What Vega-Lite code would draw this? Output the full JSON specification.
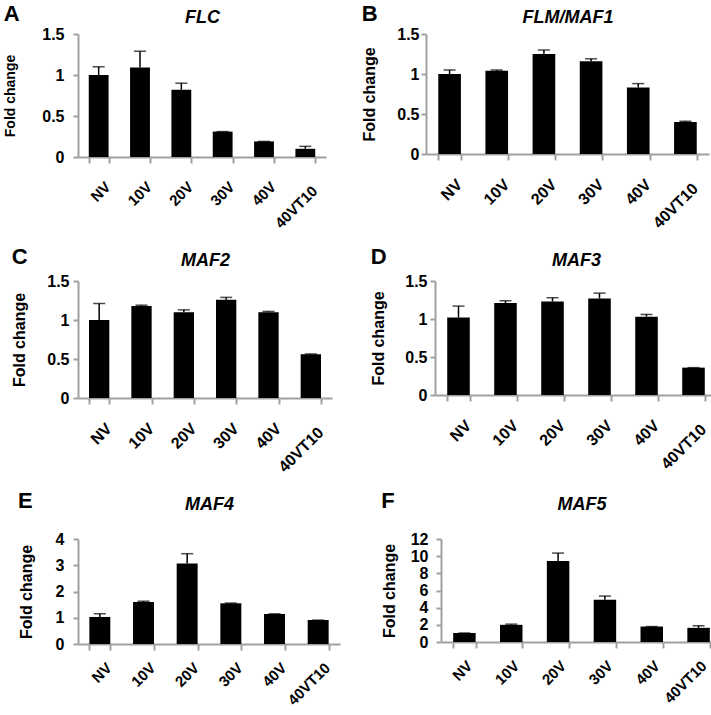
{
  "$schema": "https://vega.github.io/schema/vega-lite/v6.json",
  "padding": {"left": 3, "top": 3, "right": 2, "bottom": 0},
  "background": "white",
  "data": {"values": [
    {"panel": "A", "cat": "NV", "value": 1.0, "upper": 1.1},
    {"panel": "A", "cat": "10V", "value": 1.09, "upper": 1.29},
    {"panel": "A", "cat": "20V", "value": 0.82, "upper": 0.9},
    {"panel": "A", "cat": "30V", "value": 0.31, "upper": 0.31},
    {"panel": "A", "cat": "40V", "value": 0.19, "upper": 0.19},
    {"panel": "A", "cat": "40VT10", "value": 0.1, "upper": 0.13},
    {"panel": "B", "cat": "NV", "value": 1.0, "upper": 1.05},
    {"panel": "B", "cat": "10V", "value": 1.04, "upper": 1.05},
    {"panel": "B", "cat": "20V", "value": 1.25, "upper": 1.3},
    {"panel": "B", "cat": "30V", "value": 1.16, "upper": 1.19},
    {"panel": "B", "cat": "40V", "value": 0.83, "upper": 0.88},
    {"panel": "B", "cat": "40VT10", "value": 0.4, "upper": 0.41},
    {"panel": "C", "cat": "NV", "value": 1.0, "upper": 1.21},
    {"panel": "C", "cat": "10V", "value": 1.18, "upper": 1.19},
    {"panel": "C", "cat": "20V", "value": 1.1, "upper": 1.13},
    {"panel": "C", "cat": "30V", "value": 1.26, "upper": 1.29},
    {"panel": "C", "cat": "40V", "value": 1.1, "upper": 1.11},
    {"panel": "C", "cat": "40VT10", "value": 0.56, "upper": 0.565},
    {"panel": "D", "cat": "NV", "value": 1.02, "upper": 1.17},
    {"panel": "D", "cat": "10V", "value": 1.21, "upper": 1.24},
    {"panel": "D", "cat": "20V", "value": 1.23, "upper": 1.28},
    {"panel": "D", "cat": "30V", "value": 1.27, "upper": 1.34},
    {"panel": "D", "cat": "40V", "value": 1.03, "upper": 1.06},
    {"panel": "D", "cat": "40VT10", "value": 0.36, "upper": 0.36},
    {"panel": "E", "cat": "NV", "value": 1.03, "upper": 1.15},
    {"panel": "E", "cat": "10V", "value": 1.6, "upper": 1.63},
    {"panel": "E", "cat": "20V", "value": 3.07, "upper": 3.44},
    {"panel": "E", "cat": "30V", "value": 1.55, "upper": 1.56},
    {"panel": "E", "cat": "40V", "value": 1.14, "upper": 1.15},
    {"panel": "E", "cat": "40VT10", "value": 0.91, "upper": 0.91},
    {"panel": "F", "cat": "NV", "value": 1.05, "upper": 1.05},
    {"panel": "F", "cat": "10V", "value": 2.0, "upper": 2.08},
    {"panel": "F", "cat": "20V", "value": 9.45, "upper": 10.36},
    {"panel": "F", "cat": "30V", "value": 4.93, "upper": 5.35},
    {"panel": "F", "cat": "40V", "value": 1.8, "upper": 1.8},
    {"panel": "F", "cat": "40VT10", "value": 1.65, "upper": 1.9}
  ]},
  "config": {
    "view": {"stroke": null},
    "font": "Liberation Sans",
    "scale": {"bandPaddingInner": 0.52, "bandPaddingOuter": 0.26},
    "title": {"font": "Liberation Sans", "fontWeight": "bold", "color": "#000000", "fontSize": 22, "anchor": "start", "frame": "bounds", "offset": 0, "dy": 22},
    "axis": {
      "grid": false,
      "labelFont": "Liberation Sans", "labelFontWeight": "bold", "labelFontSize": 16, "labelColor": "#000000",
      "titleFont": "Liberation Sans", "titleFontWeight": "bold", "titleFontSize": 16, "titleColor": "#000000",
      "domainColor": "#a0a0a0", "domainWidth": 2, "tickColor": "#a0a0a0", "tickWidth": 2, "tickSize": 5
    },
    "axisBottom": {"labelAngle": -45, "tickBand": "extent", "labelOffset": 4, "tickSize": 6,
      "labelPadding": {"condition": {"test": "datum.value === '40VT10'", "value": 20}, "value": 16}},
    "axisTop": {"labels": false, "ticks": false, "domain": false, "titleFontStyle": "italic", "titleFontSize": 18},
    "axisY": {"labelOverlap": false}
  },
  "vconcat": [
    {"hconcat": [
      {"title": {"text": "A"}, "width": 248, "height": 123,
       "transform": [{"filter": "datum.panel == 'A'"}],
       "resolve": {"axis": {"x": "independent"}},
       "layer": [
        {"mark": {"type": "bar", "color": "black"}, "encoding": {
          "x": {"field": "cat", "type": "nominal", "sort": ["NV", "10V", "20V", "30V", "40V", "40VT10"], "title": null, "axis": {"labelFontSize": 15}},
          "y": {"field": "value", "type": "quantitative", "title": "Fold change", "scale": {"domain": [0, 1.5], "nice": false}, "axis": {"values": [0, 0.5, 1, 1.5], "format": ".1~f", "labelOverlap": false, "titleFontSize": 14, "titlePadding": 24, "labelPadding": 9}}}},
        {"mark": {"type": "rule", "color": "black", "strokeWidth": 1.5}, "encoding": {
          "x": {"field": "cat", "type": "nominal", "sort": ["NV", "10V", "20V", "30V", "40V", "40VT10"], "axis": null},
          "y": {"field": "value", "type": "quantitative", "title": "Fold change", "scale": {"domain": [0, 1.5], "nice": false}, "axis": {"values": [0, 0.5, 1, 1.5], "format": ".1~f", "labelOverlap": false, "titleFontSize": 14, "titlePadding": 24, "labelPadding": 9}}, "y2": {"field": "upper"}}},
        {"mark": {"type": "tick", "color": "black", "thickness": 1.5, "size": 12}, "encoding": {
          "x": {"field": "cat", "type": "nominal", "sort": ["NV", "10V", "20V", "30V", "40V", "40VT10"], "title": "FLC", "axis": {"orient": "top", "titlePadding": 8}},
          "y": {"field": "upper", "type": "quantitative", "title": "Fold change", "scale": {"domain": [0, 1.5], "nice": false}, "axis": {"values": [0, 0.5, 1, 1.5], "format": ".1~f", "labelOverlap": false, "titleFontSize": 14, "titlePadding": 24, "labelPadding": 9}}}}
       ]},
      {"title": {"text": "B"}, "width": 283, "height": 120,
       "transform": [{"filter": "datum.panel == 'B'"}],
       "resolve": {"axis": {"x": "independent"}},
       "layer": [
        {"mark": {"type": "bar", "color": "black"}, "encoding": {
          "x": {"field": "cat", "type": "nominal", "sort": ["NV", "10V", "20V", "30V", "40V", "40VT10"], "title": null},
          "y": {"field": "value", "type": "quantitative", "title": "Fold change", "scale": {"domain": [0, 1.5], "nice": false}, "axis": {"values": [0, 0.5, 1, 1.5], "format": ".1~f", "labelOverlap": false, "labelPadding": 2, "titlePadding": 19}}}},
        {"mark": {"type": "rule", "color": "black", "strokeWidth": 1.5}, "encoding": {
          "x": {"field": "cat", "type": "nominal", "sort": ["NV", "10V", "20V", "30V", "40V", "40VT10"], "axis": null},
          "y": {"field": "value", "type": "quantitative", "title": "Fold change", "scale": {"domain": [0, 1.5], "nice": false}, "axis": {"values": [0, 0.5, 1, 1.5], "format": ".1~f", "labelOverlap": false, "labelPadding": 2, "titlePadding": 19}}, "y2": {"field": "upper"}}},
        {"mark": {"type": "tick", "color": "black", "thickness": 1.5, "size": 12}, "encoding": {
          "x": {"field": "cat", "type": "nominal", "sort": ["NV", "10V", "20V", "30V", "40V", "40VT10"], "title": "FLM/MAF1", "axis": {"orient": "top", "titlePadding": 8}},
          "y": {"field": "upper", "type": "quantitative", "title": "Fold change", "scale": {"domain": [0, 1.5], "nice": false}, "axis": {"values": [0, 0.5, 1, 1.5], "format": ".1~f", "labelOverlap": false, "labelPadding": 2, "titlePadding": 19}}}}
       ]}
    ], "spacing": 100, "bounds": "flush"},
    {"hconcat": [
      {"title": {"text": "C"}, "width": 254, "height": 117,
       "transform": [{"filter": "datum.panel == 'C'"}],
       "resolve": {"axis": {"x": "independent"}},
       "layer": [
        {"mark": {"type": "bar", "color": "black"}, "encoding": {
          "x": {"field": "cat", "type": "nominal", "sort": ["NV", "10V", "20V", "30V", "40V", "40VT10"], "title": null},
          "y": {"field": "value", "type": "quantitative", "title": "Fold change", "scale": {"domain": [0, 1.5], "nice": false}, "axis": {"values": [0, 0.5, 1, 1.5], "format": ".1~f", "labelOverlap": false, "labelPadding": 4, "titlePadding": 19}}}},
        {"mark": {"type": "rule", "color": "black", "strokeWidth": 1.5}, "encoding": {
          "x": {"field": "cat", "type": "nominal", "sort": ["NV", "10V", "20V", "30V", "40V", "40VT10"], "axis": null},
          "y": {"field": "value", "type": "quantitative", "title": "Fold change", "scale": {"domain": [0, 1.5], "nice": false}, "axis": {"values": [0, 0.5, 1, 1.5], "format": ".1~f", "labelOverlap": false, "labelPadding": 4, "titlePadding": 19}}, "y2": {"field": "upper"}}},
        {"mark": {"type": "tick", "color": "black", "thickness": 1.5, "size": 12}, "encoding": {
          "x": {"field": "cat", "type": "nominal", "sort": ["NV", "10V", "20V", "30V", "40V", "40VT10"], "title": "MAF2", "axis": {"orient": "top", "titlePadding": 12}},
          "y": {"field": "upper", "type": "quantitative", "title": "Fold change", "scale": {"domain": [0, 1.5], "nice": false}, "axis": {"values": [0, 0.5, 1, 1.5], "format": ".1~f", "labelOverlap": false, "labelPadding": 4, "titlePadding": 19}}}}
       ]},
      {"title": {"text": "D"}, "width": 282, "height": 114,
       "transform": [{"filter": "datum.panel == 'D'"}],
       "resolve": {"axis": {"x": "independent"}},
       "layer": [
        {"mark": {"type": "bar", "color": "black"}, "encoding": {
          "x": {"field": "cat", "type": "nominal", "sort": ["NV", "10V", "20V", "30V", "40V", "40VT10"], "title": null},
          "y": {"field": "value", "type": "quantitative", "title": "Fold change", "scale": {"domain": [0, 1.5], "nice": false}, "axis": {"values": [0, 0.5, 1, 1.5], "format": ".1~f", "labelOverlap": false, "labelPadding": 3, "titlePadding": 18}}}},
        {"mark": {"type": "rule", "color": "black", "strokeWidth": 1.5}, "encoding": {
          "x": {"field": "cat", "type": "nominal", "sort": ["NV", "10V", "20V", "30V", "40V", "40VT10"], "axis": null},
          "y": {"field": "value", "type": "quantitative", "title": "Fold change", "scale": {"domain": [0, 1.5], "nice": false}, "axis": {"values": [0, 0.5, 1, 1.5], "format": ".1~f", "labelOverlap": false, "labelPadding": 3, "titlePadding": 18}}, "y2": {"field": "upper"}}},
        {"mark": {"type": "tick", "color": "black", "thickness": 1.5, "size": 12}, "encoding": {
          "x": {"field": "cat", "type": "nominal", "sort": ["NV", "10V", "20V", "30V", "40V", "40VT10"], "title": "MAF3", "axis": {"orient": "top", "titlePadding": 12}},
          "y": {"field": "upper", "type": "quantitative", "title": "Fold change", "scale": {"domain": [0, 1.5], "nice": false}, "axis": {"values": [0, 0.5, 1, 1.5], "format": ".1~f", "labelOverlap": false, "labelPadding": 3, "titlePadding": 18}}}}
       ]}
    ], "spacing": 103, "bounds": "flush"},
    {"hconcat": [
      {"title": {"text": "E"}, "width": 262, "height": 105,
       "transform": [{"filter": "datum.panel == 'E'"}],
       "resolve": {"axis": {"x": "independent"}},
       "layer": [
        {"mark": {"type": "bar", "color": "black"}, "encoding": {
          "x": {"field": "cat", "type": "nominal", "sort": ["NV", "10V", "20V", "30V", "40V", "40VT10"], "title": null, "axis": {"labelFontSize": 15, "labelPadding": 10}},
          "y": {"field": "value", "type": "quantitative", "title": "Fold change", "scale": {"domain": [0, 4], "nice": false}, "axis": {"values": [0, 1, 2, 3, 4], "format": "d", "labelOverlap": false, "labelPadding": 9, "titlePadding": 21}}}},
        {"mark": {"type": "rule", "color": "black", "strokeWidth": 1.5}, "encoding": {
          "x": {"field": "cat", "type": "nominal", "sort": ["NV", "10V", "20V", "30V", "40V", "40VT10"], "axis": null},
          "y": {"field": "value", "type": "quantitative", "title": "Fold change", "scale": {"domain": [0, 4], "nice": false}, "axis": {"values": [0, 1, 2, 3, 4], "format": "d", "labelOverlap": false, "labelPadding": 9, "titlePadding": 21}}, "y2": {"field": "upper"}}},
        {"mark": {"type": "tick", "color": "black", "thickness": 1.5, "size": 12}, "encoding": {
          "x": {"field": "cat", "type": "nominal", "sort": ["NV", "10V", "20V", "30V", "40V", "40VT10"], "title": "MAF4", "axis": {"orient": "top", "titlePadding": 26}},
          "y": {"field": "upper", "type": "quantitative", "title": "Fold change", "scale": {"domain": [0, 4], "nice": false}, "axis": {"values": [0, 1, 2, 3, 4], "format": "d", "labelOverlap": false, "labelPadding": 9, "titlePadding": 21}}}}
       ]},
      {"title": {"text": "F"}, "width": 281, "height": 103,
       "transform": [{"filter": "datum.panel == 'F'"}],
       "resolve": {"axis": {"x": "independent"}},
       "layer": [
        {"mark": {"type": "bar", "color": "black"}, "encoding": {
          "x": {"field": "cat", "type": "nominal", "sort": ["NV", "10V", "20V", "30V", "40V", "40VT10"], "title": null, "axis": {"labelFontSize": 15, "labelPadding": 10, "labelOffset": 0}},
          "y": {"field": "value", "type": "quantitative", "title": "Fold change", "scale": {"domain": [0, 12], "nice": false}, "axis": {"values": [0, 2, 4, 6, 8, 10, 12], "format": "d", "labelOverlap": false, "labelPadding": 8, "titlePadding": 13}}}},
        {"mark": {"type": "rule", "color": "black", "strokeWidth": 1.5}, "encoding": {
          "x": {"field": "cat", "type": "nominal", "sort": ["NV", "10V", "20V", "30V", "40V", "40VT10"], "axis": null},
          "y": {"field": "value", "type": "quantitative", "title": "Fold change", "scale": {"domain": [0, 12], "nice": false}, "axis": {"values": [0, 2, 4, 6, 8, 10, 12], "format": "d", "labelOverlap": false, "labelPadding": 8, "titlePadding": 13}}, "y2": {"field": "upper"}}},
        {"mark": {"type": "tick", "color": "black", "thickness": 1.5, "size": 12}, "encoding": {
          "x": {"field": "cat", "type": "nominal", "sort": ["NV", "10V", "20V", "30V", "40V", "40VT10"], "title": "MAF5", "axis": {"orient": "top", "titlePadding": 26}},
          "y": {"field": "upper", "type": "quantitative", "title": "Fold change", "scale": {"domain": [0, 12], "nice": false}, "axis": {"values": [0, 2, 4, 6, 8, 10, 12], "format": "d", "labelOverlap": false, "labelPadding": 8, "titlePadding": 13}}}}
       ]}
    ], "spacing": 101, "bounds": "flush"}
  ],
  "spacing": 15
}
